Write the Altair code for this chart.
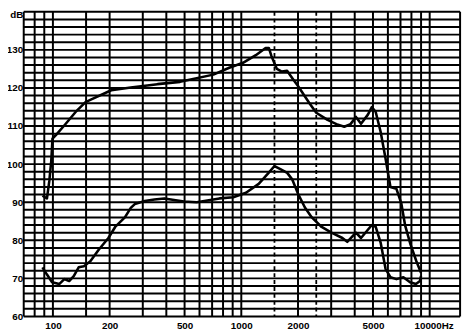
import altair as alt
import pandas as pd

# ---- data ----
upper_f = [88, 93, 95.7, 98, 99.5, 104, 117, 132, 149, 160, 204, 259, 359, 473, 711, 863,
           1021, 1194, 1346, 1400, 1445, 1545, 1640, 1750, 1870, 2000, 2300, 2500, 2870,
           3200, 3520, 3800, 4060, 4320, 4700, 4930, 5170, 5490, 5830, 6190, 6660, 7070,
           7400, 7900, 8500, 8990]
upper_db = [91.7, 91.0, 95.6, 100.8, 106.7, 107.7, 110.6, 113.7, 116.3, 117.0, 119.4, 120.1,
            121.0, 121.6, 123.5, 125.3, 126.6, 128.6, 130.5, 130.5, 128.4, 125.0, 124.3, 124.5,
            122.5, 120.5, 116.0, 113.5, 111.6, 110.5, 109.8, 110.5, 112.4, 110.6, 113.0, 115.0,
            113.7, 108.5, 101.5, 94.0, 93.5, 89.7, 84.0, 79.0, 74.5, 71.5]

lower_f = [88, 93, 99, 108, 115, 122, 129, 137, 146, 158, 175, 197, 214, 241, 259, 272, 307,
           346, 390, 496, 580, 766, 906, 1059, 1237, 1396, 1500, 1612, 1753, 1862, 2001, 2176,
           2368, 2670, 3010, 3440, 3650, 4060, 4320, 4930, 5170, 5490, 5830, 6190, 6660, 7250,
           7870, 8450, 8880, 8990]
lower_db = [72.9, 71.0, 69.0, 68.5, 69.8, 69.3, 70.6, 72.9, 73.2, 74.5, 77.5, 80.6, 83.5, 86.0,
            88.5, 89.5, 90.3, 90.7, 91.0, 90.2, 90.0, 91.0, 91.3, 92.5, 94.8, 97.7, 99.5, 98.7,
            97.7, 96.0, 92.2, 88.6, 86.0, 83.5, 82.0, 80.6, 79.6, 82.0, 80.6, 84.0, 83.5, 79.4,
            72.5, 70.3, 69.8, 70.3, 69.0, 68.5, 69.3, 70.6]

# grid of the chart paper
v_solid = [70, 80, 90, 100, 150, 200, 300, 400, 500, 600, 700, 800, 900, 1000, 2000, 3000,
           4000, 5000, 6000, 7000, 8000, 9000, 10000, 14500]
v_dashed = [1500, 2500]
h_lines = [60, 62, 64, 66, 68, 70, 72, 74, 76, 78, 80, 82, 84, 86, 88, 90, 92, 94, 96, 98, 100,
           102, 104, 106, 108, 110, 112, 114, 116, 118, 120, 122, 124, 126, 128, 130, 132, 134,
           136, 138, 140]
x_ticks = [100, 200, 500, 1000, 2000, 5000, 10000]
y_ticks = [60, 70, 80, 90, 100, 110, 120, 130, 140]

curves = pd.concat([
    pd.DataFrame({"f": upper_f, "db": upper_db, "s": "upper"}),
    pd.DataFrame({"f": lower_f, "db": lower_db, "s": "lower"}),
])

xscale = alt.Scale(type="log", domain=[70, 14500], nice=False)
yscale = alt.Scale(domain=[60, 140], nice=False, zero=False)

FONT = "Liberation Sans"

x_axis = alt.Axis(
    values=x_ticks, format="d", title=None, domain=False, ticks=False, grid=False,
    labelExpr="datum.value == 10000 ? '10000Hz' : datum.label",
    labelFont=FONT, labelFontWeight="bold", labelFontSize=10, labelColor="black",
    labelPadding=4, labelOverlap=False, labelFlush=False,
    labelOffset={"condition": {"test": "datum.value == 10000", "value": 4}, "value": 0})
y_axis = alt.Axis(
    values=y_ticks, format="d", title=None, domain=False, ticks=False, grid=False,
    labelExpr="datum.value == 140 ? 'dB' : datum.label",
    labelFont=FONT, labelFontWeight="bold", labelFontSize=10, labelColor="black",
    labelPadding=1, labelOverlap=False, labelFlush=False,
    labelOffset={"condition": {"test": "datum.value == 140", "value": 3}, "value": 0})

vs = alt.Chart(pd.DataFrame({"f": v_solid})).mark_rule(color="black", strokeWidth=2).encode(
    x=alt.X("f:Q", scale=xscale, axis=x_axis))
vd = alt.Chart(pd.DataFrame({"f": v_dashed})).mark_rule(
    color="black", strokeWidth=1.8, strokeDash=[4, 3]).encode(
    x=alt.X("f:Q", scale=xscale, axis=x_axis))
hs = alt.Chart(pd.DataFrame({"db": h_lines})).mark_rule(color="black", strokeWidth=2).encode(
    y=alt.Y("db:Q", scale=yscale, axis=y_axis))

lines = alt.Chart(curves).mark_line(color="black", strokeWidth=2.6, strokeJoin="round").encode(
    x=alt.X("f:Q", scale=xscale, axis=x_axis),
    y=alt.Y("db:Q", scale=yscale, axis=y_axis),
    detail="s:N",
)

chart = alt.layer(vs, vd, hs, lines).properties(
    width=444, height=310,
    autosize=alt.AutoSizeParams(type="none"),
    padding={"left": 16, "top": 1, "right": 5, "bottom": 15},
    background="white",
).configure_view(stroke=None)

chart.save("out.html", embed_options={"renderer": "svg", "actions": False})
